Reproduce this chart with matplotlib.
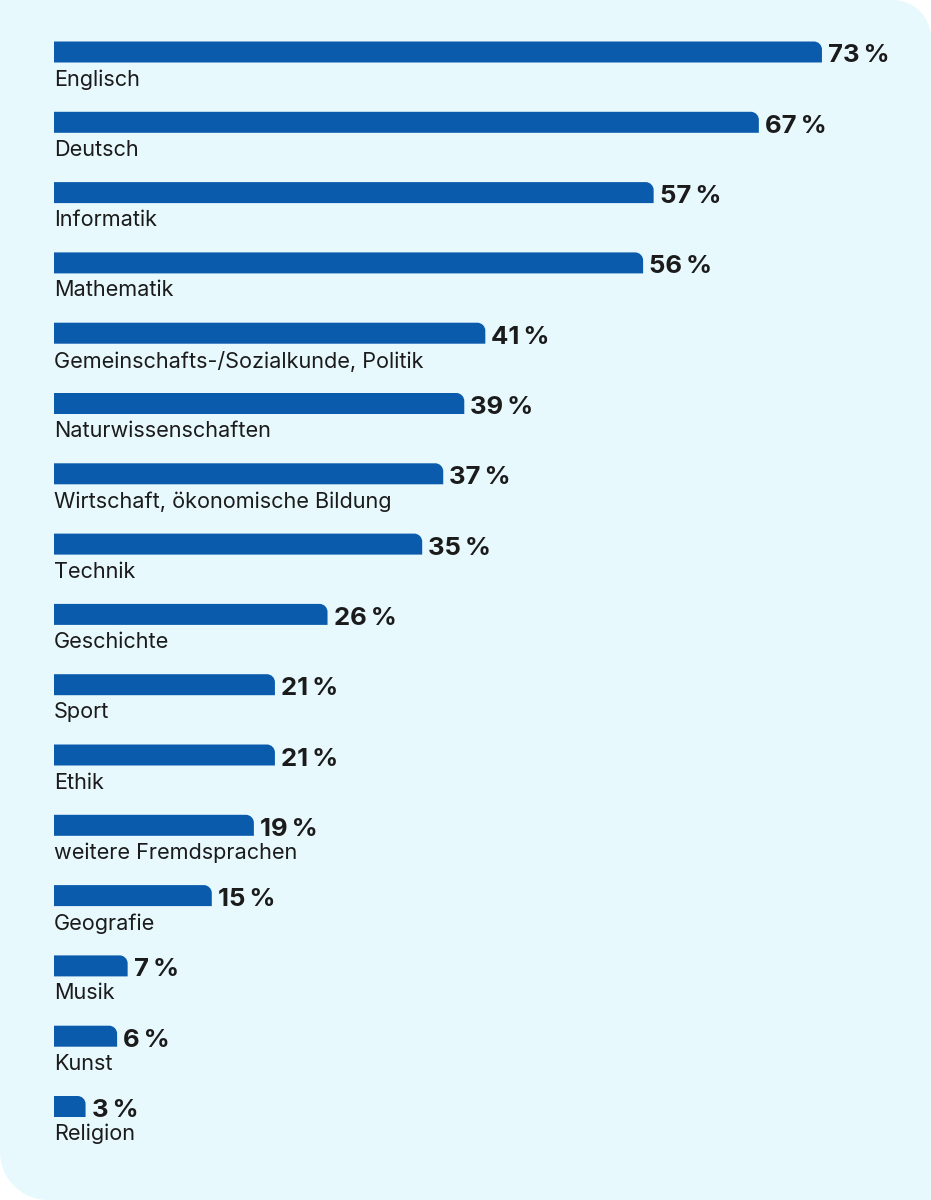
import matplotlib
matplotlib.use("Agg")
import matplotlib.pyplot as plt
from matplotlib.path import Path
from matplotlib.patches import PathPatch

categories = ["Englisch", "Deutsch", "Informatik", "Mathematik",
              "Gemeinschafts-/Sozialkunde, Politik", "Naturwissenschaften",
              "Wirtschaft, ökonomische Bildung", "Technik", "Geschichte",
              "Sport", "Ethik", "weitere Fremdsprachen", "Geografie",
              "Musik", "Kunst", "Religion"]
values = [73, 67, 57, 56, 41, 39, 37, 35, 26, 21, 21, 19, 15, 7, 6, 3]
value_labels = [f"{v}\u2009%" for v in values]

W, H = 931, 1200
BAR_COLOR = "#0B5BAC"
BG_COLOR = "#E8F9FE"
TEXT_COLOR = "#1B1B1B"

px_per_unit_x = 10.52
x0_px = 54
row_px = 70.3
first_center_px = 52
bar_h = 21 / row_px

fig = plt.figure(figsize=(W / 100, H / 100), dpi=100)
fig.patch.set_facecolor("white")

# background panel (figure pixel coordinates)
bg = fig.add_axes([0, 0, 1, 1])
bg.set_xlim(0, W)
bg.set_ylim(H, 0)
bg.axis("off")
r_tr, r_bl = 38, 48
k = 0.5523
verts = [(0, 0), (W - r_tr, 0),
         (W - r_tr + k * r_tr, 0), (W, r_tr - k * r_tr), (W, r_tr),
         (W, H), (r_bl, H),
         (r_bl - k * r_bl, H), (0, H - r_bl + k * r_bl), (0, H - r_bl),
         (0, 0), (0, 0)]
codes = [Path.MOVETO, Path.LINETO, Path.CURVE4, Path.CURVE4, Path.CURVE4,
         Path.LINETO, Path.LINETO, Path.CURVE4, Path.CURVE4, Path.CURVE4,
         Path.LINETO, Path.CLOSEPOLY]
bg.add_patch(PathPatch(Path(verts, codes), facecolor=BG_COLOR, edgecolor="none"))

ax = fig.add_axes([0, 0, 1, 1])
ax.set_xlim(-x0_px / px_per_unit_x, (W - x0_px) / px_per_unit_x)
ax.set_ylim((H - first_center_px) / row_px, -first_center_px / row_px)
ax.axis("off")
ax.patch.set_alpha(0)

plt.rcParams["font.family"] = ["Inter", "DejaVu Sans"]

rad_px = 8
rx = rad_px / px_per_unit_x
ry = rad_px / row_px
for i, (cat, v, lab) in enumerate(zip(categories, values, value_labels)):
    top = i - bar_h / 2
    bot = i + bar_h / 2
    r_x = min(rx, v)
    vv = [(0, bot), (0, top), (v - r_x, top),
          (v - r_x + k * r_x, top), (v, top + ry - k * ry), (v, top + ry),
          (v, bot), (0, bot)]
    cc = [Path.MOVETO, Path.LINETO, Path.LINETO,
          Path.CURVE4, Path.CURVE4, Path.CURVE4,
          Path.LINETO, Path.CLOSEPOLY]
    ax.add_patch(PathPatch(Path(vv, cc), facecolor=BAR_COLOR, edgecolor="none"))
    ax.text(v + 6 / px_per_unit_x, i + 4 / row_px, lab, ha="left", va="center",
            fontsize=18.5, fontweight="bold", color=TEXT_COLOR,
            family=["Inter", "DejaVu Sans"])
    ax.text(0, bot + 7 / row_px, cat, ha="left", va="top",
            fontsize=15.6, color=TEXT_COLOR, family=["Inter", "DejaVu Sans"])

fig.savefig("out.png", dpi=100, facecolor="white")
